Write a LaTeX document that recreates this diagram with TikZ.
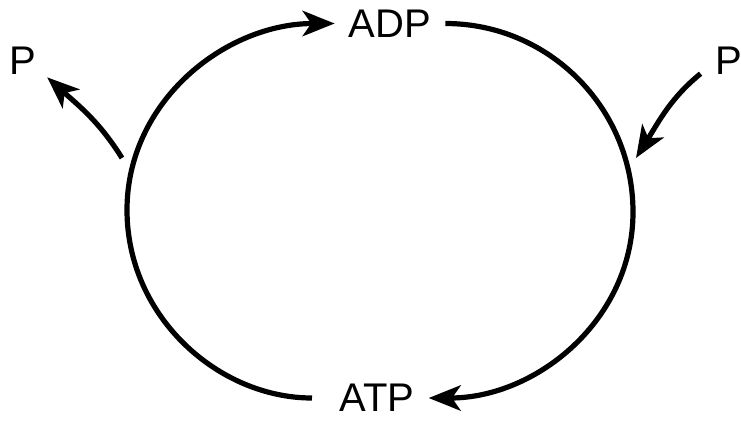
\documentclass[tikz,border=0pt]{standalone}
\usepackage{fontspec}
\setmainfont{Liberation Sans}
\usetikzlibrary{arrows.meta}
\tikzset{
	px/.style={x=0.75pt,y=-0.75pt},
	cycleline/.style={line width=3.9pt,-{Stealth[length=24pt,width=19pt,inset=6.5pt]}},
	compound/.style={font=\fontsize{30}{36}\selectfont, inner sep=10.5pt},
	phosphate/.style={font=\fontsize{30}{36}\selectfont, inner sep=8pt}
}
\begin{document}
\begin{tikzpicture}[px]
	\useasboundingbox (0,0) rectangle (741,425);

	\node[compound]		(ADP)	at (390,23.5)	{ADP};
	\node[compound]		(ATP)	at (377,398)	{ATP};
	\node[phosphate]	(Pout)	at (23,61)		{P};
	\node[phosphate]	(Pin)	at (729,61)		{P};

	\coordinate	(ringW)	at (127,210);
	\coordinate	(ringE)	at (633,212);
	\coordinate	(leave)	at (122,158);
	\coordinate	(enter)	at (636,158);

	\draw[cycleline, shorten <=10pt]	(ATP.west) to[out=180,in=-90] (ringW) to[out=90,in=180] (ADP.west);
	\draw[cycleline]	(ADP.east) to[out=0,in=90] (ringE) to[out=-90,in=0] (ATP.east);
	\draw[cycleline]	(leave) to[out=122,in=-42] (Pout.-34);
	\draw[cycleline, shorten <=4pt]	(Pin.201) to[out=219,in=58] (enter);
\end{tikzpicture}
\end{document}
